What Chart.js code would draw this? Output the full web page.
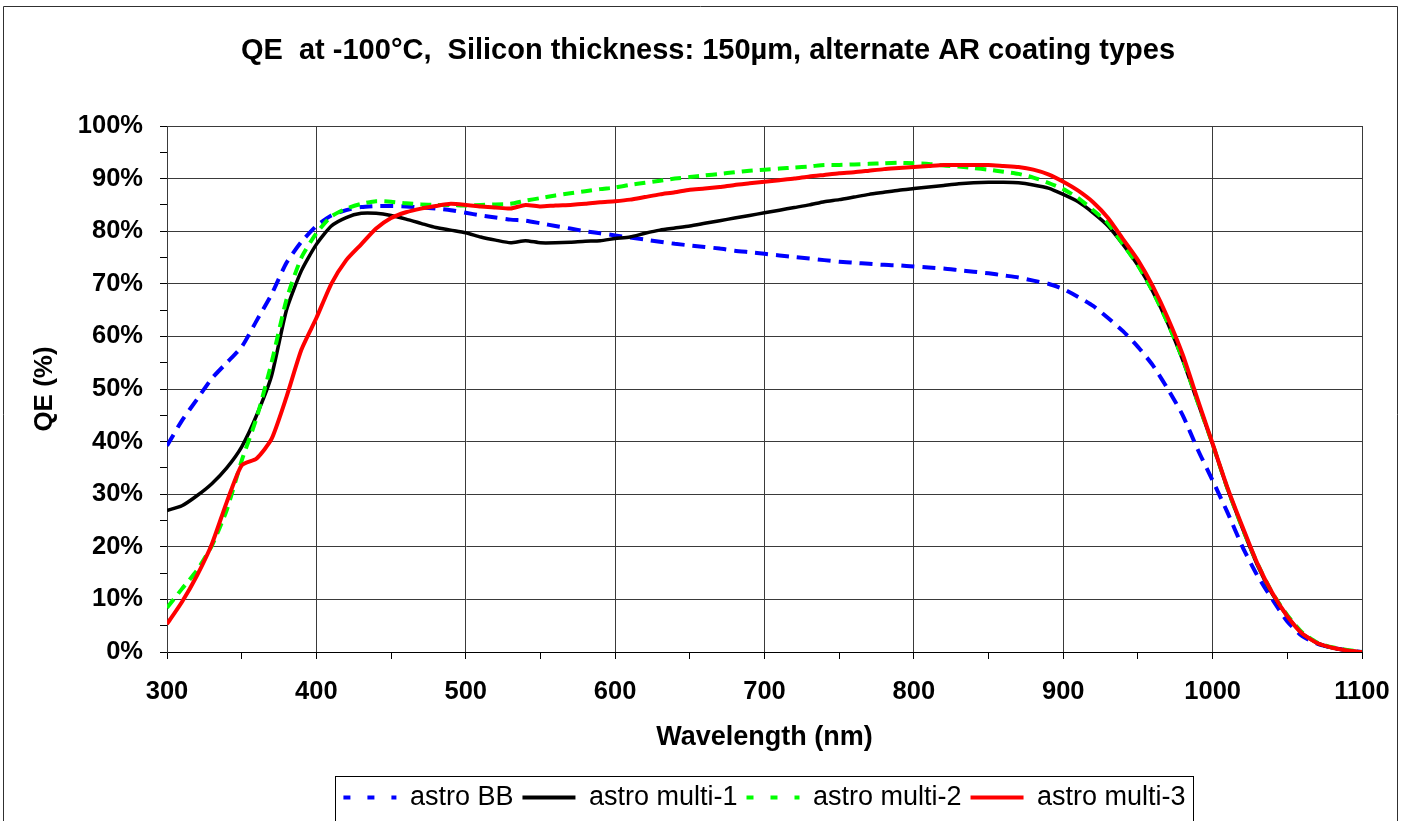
<!DOCTYPE html>
<html>
<head>
<meta charset="utf-8">
<script src="https://cdn.jsdelivr.net/npm/chart.js@4.4.1/dist/chart.umd.min.js"></script>
<style>
html,body{margin:0;padding:0;background:#fff;}
#wrap{width:1401px;height:821px;position:relative;}
</style>
</head>
<body>
<div id="wrap"><canvas id="c" width="1401" height="821"></canvas></div>
<script>
const wavelengths = [300,310,320,330,340,350,360,370,380,390,400,410,420,430,440,450,460,470,480,490,500,510,520,530,540,550,560,570,580,590,600,610,620,630,640,650,660,670,680,690,700,710,720,730,740,750,760,770,780,790,800,810,820,830,840,850,860,870,880,890,900,910,920,930,940,950,960,970,980,990,1000,1010,1020,1030,1040,1050,1060,1070,1080,1090,1100];

const astroBB = [39.2,44,48,52,55,58,63,68,74,78,81,83,84,84.6,84.8,84.8,84.7,84.5,84.3,84,83.5,83,82.6,82.2,82,81.5,81,80.5,80,79.6,79.2,78.8,78.4,78,77.6,77.3,77,76.7,76.3,76,75.7,75.4,75.1,74.8,74.5,74.2,74,73.8,73.6,73.5,73.3,73.1,72.9,72.6,72.3,72,71.6,71.2,70.6,70,69,67.5,65.8,63.5,61,58,54.5,50,45,38.5,32.6,26.5,20,14.5,10,5.8,3,1.6,0.8,0.3,0];

const astroMulti1 = [26.9,27.8,29.7,32,35,39,45,52.5,65,72.5,77.5,81,82.6,83.4,83.4,83,82.3,81.5,80.7,80.2,79.7,78.9,78.3,77.8,78.2,77.8,77.8,77.9,78.1,78.2,78.6,78.9,79.6,80.2,80.6,81,81.5,82,82.5,83,83.5,84,84.5,85,85.6,86,86.5,87,87.4,87.8,88.1,88.4,88.7,89,89.2,89.3,89.3,89.2,88.8,88.2,87,85.6,83.5,81,77.5,73.5,68.5,62.5,55.5,47.5,39.5,31,23.5,16.5,11,6.8,3.5,1.7,0.8,0.3,0];

const astroMulti2 = [8.4,12,15.5,20.2,27,36.4,44.5,55,67,75,79.6,82.8,84.3,85.2,85.7,85.6,85.3,85.1,85,85,84.9,85,85.1,85.2,85.8,86.3,86.8,87.2,87.6,88,88.3,88.8,89.2,89.6,90,90.3,90.6,90.9,91.2,91.5,91.7,91.9,92.1,92.3,92.6,92.6,92.7,92.8,92.9,93,92.9,92.8,92.5,92.3,92,91.7,91.3,90.9,90.2,89.2,88,86.3,84,81.5,77.5,73.5,68.5,62.5,55.7,47.5,39.5,31,23.5,16.8,11.2,7,3.7,1.8,0.9,0.4,0];

const astroMulti3 = [5.3,9.5,14.5,20.5,28.5,35.5,36.8,40.5,48.5,57.5,63.5,70,74.5,77.5,80.5,82.5,83.6,84.3,84.8,85.2,85,84.7,84.5,84.3,85,84.7,84.9,85,85.2,85.5,85.7,86,86.5,87,87.4,87.9,88.1,88.4,88.8,89.1,89.4,89.7,90,90.4,90.7,91,91.2,91.5,91.8,92,92.2,92.4,92.6,92.6,92.6,92.6,92.4,92.2,91.7,90.8,89.4,87.7,85.5,82.5,78.5,74.5,69.5,63.5,56.5,48,39.6,31.2,23.8,16.8,11.2,6.8,3.5,1.7,0.8,0.3,0];

const seriesNames = ['astro BB','astro multi-1','astro multi-2','astro multi-3'];
const chartTitle = 'QE  at -100°C,  Silicon thickness: 150µm, alternate AR coating types';
const xTitle = 'Wavelength (nm)';
const yTitle = 'QE (%)';

function pts(arr){ return wavelengths.map((w,i)=>({x:w,y:arr[i]})); }

const F = 'Liberation Sans, Arial, sans-serif';

const frame = {
  id:'frame',
  beforeDraw(chart){
    const ctx = chart.ctx;
    ctx.save();
    ctx.fillStyle='#fff';
    ctx.fillRect(0,0,chart.width,chart.height);
    ctx.strokeStyle='#303030';
    ctx.lineWidth=1;
    ctx.beginPath();
    ctx.moveTo(3.5,830); ctx.lineTo(3.5,6.5); ctx.lineTo(1397.5,6.5); ctx.lineTo(1397.5,830);
    ctx.stroke();
    // chart title
    ctx.fillStyle='#000';
    ctx.font='bold 29px '+F;
    ctx.textAlign='center';
    ctx.textBaseline='middle';
    ctx.fillText(chartTitle, 708, 51);
    ctx.restore();
  },
  afterDraw(chart){
    const lg = chart.legend;
    if(!lg || !lg.legendHitBoxes || !lg.legendHitBoxes.length) return;
    let l=Infinity,r=-Infinity;
    lg.legendHitBoxes.forEach(b=>{l=Math.min(l,b.left);r=Math.max(r,b.left+b.width);});
    const ctx=chart.ctx;
    ctx.save();
    ctx.strokeStyle='#000';
    ctx.lineWidth=1;
    ctx.strokeRect(Math.round(l-8)+0.5, Math.round(lg.top)+1.5, Math.round(r-l+16), 60);
    ctx.restore();
  }
};

new Chart(document.getElementById('c'), {
  type:'line',
  data:{
    datasets:[
      {label:seriesNames[0], data:pts(astroBB), borderColor:'#0000ff', backgroundColor:'#0000ff', borderWidth:4, borderDash:[13,8], order:3},
      {label:seriesNames[1], data:pts(astroMulti1), borderColor:'#000000', backgroundColor:'#000000', borderWidth:3.5, order:2},
      {label:seriesNames[2], data:pts(astroMulti2), borderColor:'#00ff00', backgroundColor:'#00ff00', borderWidth:4, borderDash:[11,7], order:1},
      {label:seriesNames[3], data:pts(astroMulti3), borderColor:'#ff0000', backgroundColor:'#ff0000', borderWidth:4, order:0}
    ]
  },
  options:{
    responsive:false,
    animation:false,
    devicePixelRatio:1,
    layout:{padding:{left:4,right:39,top:126,bottom:0}},
    elements:{point:{radius:0,hoverRadius:0}, line:{tension:0.2, fill:false, borderCapStyle:'butt', borderJoinStyle:'round'}},
    plugins:{
      tooltip:{enabled:false},
      title:{display:false},
      legend:{
        position:'bottom',
        fullSize:false,
        labels:{
          color:'#000',
          font:{family:F, size:27, weight:'normal'},
          usePointStyle:true,
          pointStyle:'line',
          pointStyleWidth:53,
          padding:9,
          sort:(a,b)=>a.datasetIndex-b.datasetIndex,
          generateLabels:(chart)=>{
            const items = Chart.defaults.plugins.legend.labels.generateLabels(chart);
            items.forEach(it=>{
              const ds = chart.data.datasets[it.datasetIndex];
              it.lineWidth = 4;
              it.strokeStyle = ds.borderColor;
              it.lineDash = ds.borderDash ? [7,17] : [];
            });
            return items;
          }
        }
      }
    },
    scales:{
      x:{
        type:'linear', min:300, max:1100,
        afterFit:(s)=>{ s.height = 123; s.paddingLeft = 0; s.paddingRight = 0; },
        ticks:{stepSize:50, autoSkip:false, maxRotation:0, padding:18, color:'#000',
          font:{family:F, size:25.5, weight:'bold'},
          callback:(v)=> (v%100===0 ? String(v) : '')},
        grid:{color:(c)=> (c.tick && c.tick.value%100===0 ? '#3a3a3a' : 'rgba(0,0,0,0)'), tickColor:'#000', tickLength:7, lineWidth:1},
        border:{display:true, color:'#000', width:1},
        title:{display:true, text:xTitle, color:'#000', font:{family:F, size:27, weight:'bold'}, padding:{top:0,bottom:21}}
      },
      y:{
        min:0, max:100,
        afterFit:(s)=>{ s.width = 163; },
        ticks:{stepSize:5, autoSkip:false, padding:17, color:'#000',
          font:{family:F, size:25.5, weight:'bold'},
          callback:(v)=> (v%10===0 ? v+'%' : '')},
        grid:{color:(c)=> (c.tick && c.tick.value%10===0 ? '#3a3a3a' : 'rgba(0,0,0,0)'), tickColor:'#000', tickLength:7, lineWidth:1},
        border:{display:true, color:'#3a3a3a', width:1},
        title:{display:true, text:yTitle, color:'#000', font:{family:F, size:26, weight:'bold'}, padding:{top:25,bottom:0}}
      }
    }
  },
  plugins:[frame]
});
</script>
</body>
</html>
